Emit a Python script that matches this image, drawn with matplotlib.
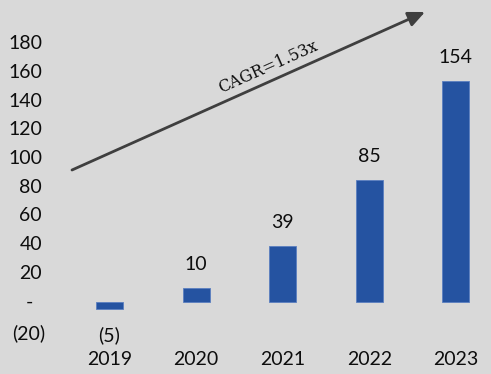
import matplotlib

matplotlib.use("Agg")
import matplotlib.pyplot as plt
import matplotlib.transforms as mtransforms

years = ["2019", "2020", "2021", "2022", "2023"]
values = [-5, 10, 39, 85, 154]
value_labels = ["(5)", "10", "39", "85", "154"]
ytick_values = [180, 160, 140, 120, 100, 80, 60, 40, 20, 0, -20]
ytick_labels = ["180", "160", "140", "120", "100", "80", "60", "40", "20", "-", "(20)"]

BG = "#d9d9d9"
BAR = "#2553a1"
TXT = "#0d0d0d"
FONT = "Lato"
FS = 14

W, H = 491, 374
fig = plt.figure(figsize=(W / 100, H / 100), dpi=100, facecolor=BG)
ax = fig.add_axes([0, 0, 1, 1], facecolor=BG)

# pixel mapping: x=0 at px 109.5, step 86.6 px; y=0 at px 302, 1.435 px/unit
ax.set_xlim(-109.5 / 86.6, (W - 109.5) / 86.6)
ax.set_ylim(-(H - 302) / 1.435, 302 / 1.435)
ax.axis("off")

xs = list(range(len(years)))
ax.bar(xs, values, width=0.31, color=BAR, edgecolor="#5b7fc0", linewidth=0.6)

for x, v, lab in zip(xs, values, value_labels):
    off = 17 if v >= 0 else -19
    ax.annotate(lab, (x, v), xytext=(0, off), textcoords="offset points",
                ha="center", va="center", fontsize=FS, family=FONT, color=TXT)

for x, yr in zip(xs, years):
    ax.text(x, -40.4, yr, ha="center", va="center", fontsize=FS, family=FONT, color=TXT)

ytrans = mtransforms.blended_transform_factory(fig.transFigure, ax.transData)
for v, lab in zip(ytick_values, ytick_labels):
    if v > 0:
        ax.text(42 / W, v, lab, transform=ytrans, ha="right", va="center",
                fontsize=FS, family=FONT, color=TXT)
    else:
        ax.text(29 / W, v - (0 if v == 0 else 1.5), lab, transform=ytrans, ha="center", va="center",
                fontsize=FS, family=FONT, color=TXT)

# growth arrow
ax.annotate("", xy=(425, H - 12), xytext=(72, H - 170), xycoords="figure pixels",
            textcoords="figure pixels",
            arrowprops=dict(arrowstyle="-|>,head_length=1.0,head_width=0.45",
                            color="#3f3f3f", lw=2.0, shrinkA=0, shrinkB=0))
ax.text(268 / W, 1 - 67 / H, "CAGR=1.53x", transform=fig.transFigure, rotation=24.1,
        rotation_mode="anchor", ha="center", va="center", fontsize=11.5,
        family="DejaVu Serif", color=TXT)

fig.savefig("out.png", dpi=100, facecolor=BG)
